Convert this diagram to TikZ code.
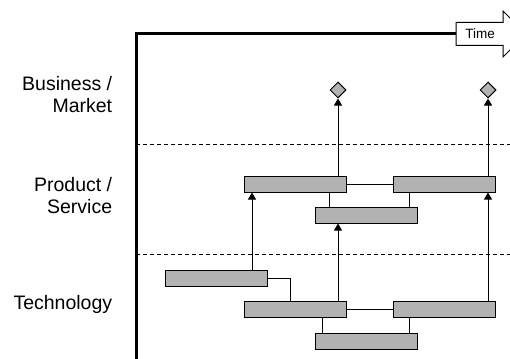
\documentclass[tikz,border=0pt]{standalone}
\usepackage{fontspec}
\setmainfont{Liberation Sans}
\usetikzlibrary{shapes.geometric, arrows.meta}
\begin{document}
\begin{tikzpicture}[x=1pt, y=-1pt, line width=1pt,
  bar/.style = {draw, fill=black!30, minimum width=102pt, minimum height=16pt, inner sep=0pt},
  mile/.style = {draw, diamond, fill=black!30, minimum size=16pt, inner sep=0pt},
  lane/.style = {align=right, anchor=east, font=\fontsize{19.5}{22}\selectfont},
  arr/.style = {-{Triangle[width=8pt, length=7pt]}},
  sep/.style = {line width=0.8pt, dash pattern=on 4pt off 3pt}]
\useasboundingbox (0,0) rectangle (510,358);

\node[lane] (bm) at (116,95) {Business /\\Market};
\node[lane] (ps) at (116,196) {Product /\\Service};
\node[lane] (te) at (116,304) {Technology};

\coordinate (s1) at (136,144); \coordinate (e1) at (510,144);
\coordinate (s2) at (136,254); \coordinate (e2) at (510,254);
\draw[sep] (s1) -- (e1);
\draw[sep] (s2) -- (e2);

\coordinate (o) at (136,362);
\coordinate (tb) at (456,34);
\draw[line width=3pt] (o) |- (tb);
\draw[fill=white] (456,22.5) -- (503,22.5) -- (503,11) -- (526,34) -- (503,57) -- (503,45.5) -- (456,45.5) -- cycle;
\node (time) at (480,34) {\fontsize{13.5}{15}\selectfont Time};

\node[bar] (1) at (295,184) {};
\node[bar] (2) at (444.5,184) {};
\node[bar] (3) at (366,215) {};
\node[bar] (4) at (216.5,278) {};
\node[bar] (5) at (295,309) {};
\node[bar] (6) at (444.5,309) {};
\node[bar] (7) at (366,341) {};
\node[mile] (8) at (338,90) {};
\node[mile] (9) at (488,90) {};

\draw (1) -- (2);
\draw ([xshift=15pt]3.north west) -- ([xshift=15pt]3.north west |- 1.south);
\draw ([xshift=-8pt]3.north east) -- ([xshift=-8pt]3.north east |- 2.south);
\draw (5) -- (6);
\draw ([xshift=8pt]7.north west) -- ([xshift=8pt]7.north west |- 5.south);
\draw ([xshift=-8pt]7.north east) -- ([xshift=-8pt]7.north east |- 6.south);
\draw (4.east) -| ([xshift=47pt]5.north west);

\draw[arr] ([xshift=-16pt]4.north east) -- ([xshift=-16pt]4.north east |- 1.south);
\draw[arr] (8 |- 5.north) -- (8 |- 3.south);
\draw[arr] (9 |- 6.north) -- (9 |- 2.south);
\draw[arr] (8 |- 1.north) -- (8);
\draw[arr] (9 |- 2.north) -- (9);

\end{tikzpicture}
\end{document}
